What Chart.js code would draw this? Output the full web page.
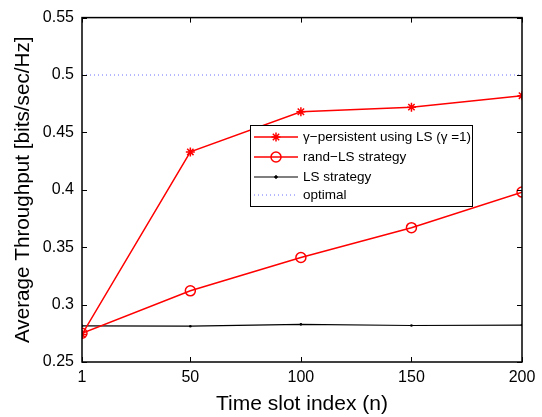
<!DOCTYPE html>
<html>
<head>
<meta charset="utf-8">
<script src="https://cdn.jsdelivr.net/npm/chart.js@4.4.0/dist/chart.umd.min.js"></script>
<style>
  html, body { margin: 0; padding: 0; background: #fff; }
  #wrap { width: 542px; height: 417px; }
</style>
</head>
<body>
<div id="wrap"><canvas id="chart" width="542" height="417"></canvas></div>
<script>
// data
const slots = [1, 50, 100, 150, 200];
const gammaPersistent = [0.274, 0.433, 0.468, 0.472, 0.482];
const randLS = [0.275, 0.312, 0.341, 0.367, 0.398];
const lsStrategy = [0.2815, 0.2812, 0.2828, 0.2818, 0.2822];
const optimal = [0.5, 0.5, 0.5, 0.5, 0.5];
const xTicks = [1, 50, 100, 150, 200];
const yTicks = [0.25, 0.3, 0.35, 0.4, 0.45, 0.5, 0.55];

const FONT = 'Liberation Sans, Arial, Helvetica, sans-serif';
const pts = arr => slots.map((x, i) => ({ x: x, y: arr[i] }));

// matlab style box + inward ticks
const boxTicks = {
    id: 'boxTicks',
    afterDatasetsDraw(chart) {
        const { ctx, chartArea: a, scales } = chart;
        ctx.save();
        ctx.strokeStyle = '#000';
        ctx.lineWidth = 1;
        ctx.beginPath();
        xTicks.forEach(v => {
            const x = Math.round(scales.x.getPixelForValue(v)) + 0.5;
            ctx.moveTo(x, a.bottom); ctx.lineTo(x, a.bottom - 5);
            ctx.moveTo(x, a.top); ctx.lineTo(x, a.top + 5);
        });
        yTicks.forEach(v => {
            const y = Math.round(scales.y.getPixelForValue(v)) + 0.5;
            ctx.moveTo(a.left, y); ctx.lineTo(a.left + 5, y);
            ctx.moveTo(a.right, y); ctx.lineTo(a.right - 5, y);
        });
        ctx.stroke();
        ctx.lineWidth = 1.5;
        ctx.strokeRect(a.left, a.top, a.right - a.left, a.bottom - a.top);
        ctx.restore();
    }
};

// legend box inside the axes, like the original
const boxLegend = {
    id: 'boxLegend',
    afterDraw(chart) {
        const ctx = chart.ctx;
        const left = 250, top = 125, w = 222, h = 81;
        ctx.save();
        ctx.fillStyle = '#fff';
        ctx.fillRect(left, top, w, h);
        ctx.strokeStyle = '#000';
        ctx.lineWidth = 1;
        ctx.strokeRect(left + 0.5, top + 0.5, w, h);
        const rows = [137, 157, 177, 195];
        chart.data.datasets.forEach((ds, i) => {
            const y = rows[i];
            ctx.strokeStyle = ds.borderColor;
            ctx.lineWidth = ds.borderWidth;
            ctx.setLineDash(ds.borderDash || []);
            ctx.beginPath();
            ctx.moveTo(254, y); ctx.lineTo(298, y);
            ctx.stroke();
            ctx.setLineDash([]);
            if (ds.pointRadius > 0) {
                ctx.fillStyle = ds.pointBackgroundColor;
                ctx.strokeStyle = ds.borderColor;
                ctx.lineWidth = ds.pointBorderWidth || 1;
                Chart.helpers.drawPoint(ctx, {
                    pointStyle: ds.pointStyle,
                    radius: ds.pointRadius,
                    borderWidth: ds.pointBorderWidth || 1,
                    rotation: 0
                }, 276, y);
            }
            ctx.fillStyle = '#000';
            ctx.font = '13.5px ' + FONT;
            ctx.textBaseline = 'middle';
            ctx.fillText(ds.label, 303, y);
        });
        ctx.restore();
    }
};

new Chart(document.getElementById('chart'), {
    type: 'line',
    data: {
        datasets: [
            {
                label: 'γ\u2212persistent using LS (γ =1)',
                data: pts(gammaPersistent),
                borderColor: '#ff0000',
                backgroundColor: '#ff0000',
                pointBackgroundColor: '#ff0000',
                borderWidth: 1.5,
                pointStyle: 'star',
                pointRadius: 4.5,
                pointBorderWidth: 1.5
            },
            {
                label: 'rand\u2212LS strategy',
                data: pts(randLS),
                borderColor: '#ff0000',
                backgroundColor: 'rgba(0,0,0,0)',
                pointBackgroundColor: 'rgba(0,0,0,0)',
                borderWidth: 1.5,
                pointStyle: 'circle',
                pointRadius: 5,
                pointBorderWidth: 1.5
            },
            {
                label: 'LS strategy',
                data: pts(lsStrategy),
                borderColor: '#000000',
                backgroundColor: '#000000',
                pointBackgroundColor: '#000000',
                borderWidth: 1.2,
                pointStyle: 'circle',
                pointRadius: 1.3,
                pointBorderWidth: 0
            },
            {
                label: 'optimal',
                data: pts(optimal),
                borderColor: '#6f6fff',
                backgroundColor: '#6f6fff',
                pointBackgroundColor: '#6f6fff',
                borderWidth: 1,
                borderDash: [1, 3],
                pointRadius: 0
            }
        ]
    },
    options: {
        responsive: false,
        animation: false,
        layout: { padding: { top: 15, right: 20, left: 0, bottom: 0 } },
        plugins: { legend: { display: false }, tooltip: { enabled: false } },
        elements: { line: { tension: 0 } },
        scales: {
            x: {
                type: 'linear',
                min: 1,
                max: 200,
                afterBuildTicks: s => { s.ticks = xTicks.map(v => ({ value: v })); },
                afterFit: s => { s.height = 55; },
                grid: { display: false, drawTicks: false },
                border: { display: false },
                ticks: { color: '#000', padding: 6, font: { family: FONT, size: 16 }, maxRotation: 0, autoSkip: false },
                title: {
                    display: true,
                    text: 'Time slot index (n)',
                    color: '#000',
                    font: { family: FONT, size: 21 },
                    padding: { top: 1, bottom: 0 }
                }
            },
            y: {
                min: 0.25,
                max: 0.55,
                afterBuildTicks: s => { s.ticks = yTicks.map(v => ({ value: v })); },
                afterFit: s => { s.width = 82; },
                grid: { display: false, drawTicks: false },
                border: { display: false },
                ticks: {
                    color: '#000',
                    padding: 8,
                    font: { family: FONT, size: 16 },
                    callback: v => String(+v.toFixed(2))
                },
                title: {
                    display: true,
                    text: 'Average Throughput [bits/sec/Hz]',
                    color: '#000',
                    font: { family: FONT, size: 20.7 },
                    padding: { top: 11, bottom: 0 }
                }
            }
        }
    },
    plugins: [boxTicks, boxLegend]
});
</script>
</body>
</html>
